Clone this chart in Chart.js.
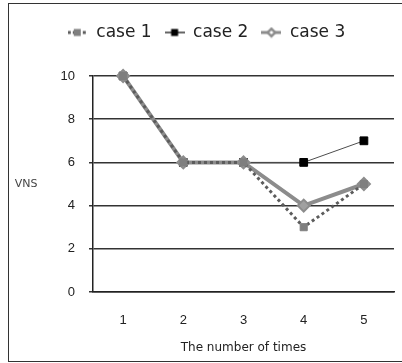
<!DOCTYPE html>
<html>
<head>
<meta charset="utf-8">
<script src="https://cdn.jsdelivr.net/npm/chart.js@4"></script>
<style>
  html, body { margin:0; padding:0; background:#fff; overflow:hidden; }
  #wrap { position:relative; width:402px; height:363px; }
  #frame { position:absolute; left:8px; top:3px; width:400px; height:357px; border:1px solid #333; border-right:none; }
  #wrap canvas { position:absolute; left:0; top:0; }
</style>
</head>
<body>
<div id="wrap">
  <div id="frame"></div>
  <canvas id="vnsChart"></canvas>
</div>
<script>
// ---- DATA ----
const times = ['1', '2', '3', '4', '5'];
const case1 = [10, 6, 6, 3, 5];
const case2 = [10, 6, 6, 6, 7];
const case3 = [10, 6, 6, 4, 5];
const yTicks = [0, 2, 4, 6, 8, 10];

// ---- LEGEND ICONS (line + marker) ----
function makeIcon(draw) {
  const c = document.createElement('canvas');
  c.width = 20; c.height = 12;
  draw(c.getContext('2d'));
  return c;
}
const icons = [
  makeIcon(g => {
    g.strokeStyle = '#5c5c5c'; g.lineWidth = 3; g.setLineDash([3, 2]);
    g.beginPath(); g.moveTo(0, 6); g.lineTo(20, 6); g.stroke();
    g.fillStyle = '#7f7f7f'; g.fillRect(6, 2.5, 7, 7);
  }),
  makeIcon(g => {
    g.strokeStyle = '#333'; g.lineWidth = 1.5;
    g.beginPath(); g.moveTo(0, 6); g.lineTo(20, 6); g.stroke();
    g.fillStyle = '#000'; g.fillRect(6.5, 2.5, 7, 7);
  }),
  makeIcon(g => {
    g.strokeStyle = '#8c8c8c'; g.lineWidth = 3;
    g.beginPath(); g.moveTo(0, 6); g.lineTo(20, 6); g.stroke();
    g.fillStyle = '#8c8c8c';
    g.beginPath(); g.moveTo(10, 0.5); g.lineTo(15.5, 6); g.lineTo(10, 11.5); g.lineTo(4.5, 6); g.closePath(); g.fill();
    g.fillStyle = '#fff';
    g.beginPath(); g.moveTo(10, 4); g.lineTo(12, 6); g.lineTo(10, 8); g.lineTo(8, 6); g.closePath(); g.fill();
  })
];

// extra room under the legend
const legendGap = {
  id: 'legendGap',
  beforeLayout(chart) {
    const lg = chart.legend;
    if (lg && !lg._gap) {
      const fit = lg.fit;
      lg.fit = function () { fit.call(this); this.height += 25; };
      lg._gap = true;
    }
  }
};

// horizontal y-axis caption
const yCaption = {
  id: 'yCaption',
  afterDraw(chart) {
    const { ctx, chartArea } = chart;
    ctx.save();
    ctx.font = '11px "DejaVu Sans"';
    ctx.fillStyle = '#444';
    ctx.textAlign = 'center';
    ctx.textBaseline = 'middle';
    ctx.fillText('VNS', 26, (chartArea.top + chartArea.bottom) / 2);
    ctx.restore();
  }
};

new Chart(document.getElementById('vnsChart'), {
  type: 'line',
  data: {
    labels: times,
    datasets: [
      { label: 'case 1', data: case1, order: 1, borderColor: '#5c5c5c', borderWidth: 3, borderDash: [3, 3],
        pointStyle: 'rect', pointRadius: 5, pointBackgroundColor: '#7f7f7f', pointBorderColor: '#7f7f7f', pointBorderWidth: 1, clip: false },
      { label: 'case 2', data: case2, order: 3, borderColor: '#4d4d4d', borderWidth: 1,
        pointStyle: 'rect', pointRadius: 5.5, pointBackgroundColor: '#000', pointBorderColor: '#000', pointBorderWidth: 1, clip: false },
      { label: 'case 3', data: case3, order: 2, borderColor: '#8c8c8c', borderWidth: 4,
        pointStyle: 'rectRot', pointRadius: 6, pointBackgroundColor: '#a0a0a0', pointBorderColor: '#8c8c8c', pointBorderWidth: 2, clip: false }
    ]
  },
  options: {
    responsive: true, maintainAspectRatio: false, animation: false,
    layout: { padding: { top: 11, left: 11, right: 0, bottom: 0 } },
    plugins: {
      tooltip: { enabled: false },
      legend: {
        labels: {
          usePointStyle: true, pointStyleWidth: 20, padding: 13, color: '#222',
          font: { family: 'DejaVu Sans', size: 17 },
          sort: (a, b) => a.datasetIndex - b.datasetIndex,
          generateLabels(chart) {
            const items = Chart.defaults.plugins.legend.labels.generateLabels(chart);
            items.forEach(it => { it.pointStyle = icons[it.datasetIndex]; });
            return items;
          }
        }
      }
    },
    scales: {
      x: {
        offset: true,
        grid: { display: false },
        border: { display: true, color: '#222', width: 1.5 },
        ticks: { color: '#222', padding: 13, font: { family: 'Liberation Sans', size: 13 } },
        title: { display: true, text: 'The number of times', color: '#222',
                 font: { family: 'DejaVu Sans', size: 12 }, padding: { top: 0, bottom: 8 } },
        afterFit: s => { s.height = 71; }
      },
      y: {
        min: 0, max: 10,
        afterBuildTicks: s => { s.ticks = yTicks.map(v => ({ value: v })); },
        grid: { color: '#333', lineWidth: 1.5, tickLength: 4 },
        border: { display: true, color: '#222', width: 1.5 },
        ticks: { color: '#222', padding: 14, font: { family: 'Liberation Sans', size: 13 } },
        afterFit: s => { s.width = 82; }
      }
    }
  },
  plugins: [legendGap, yCaption]
});
</script>
</body>
</html>
